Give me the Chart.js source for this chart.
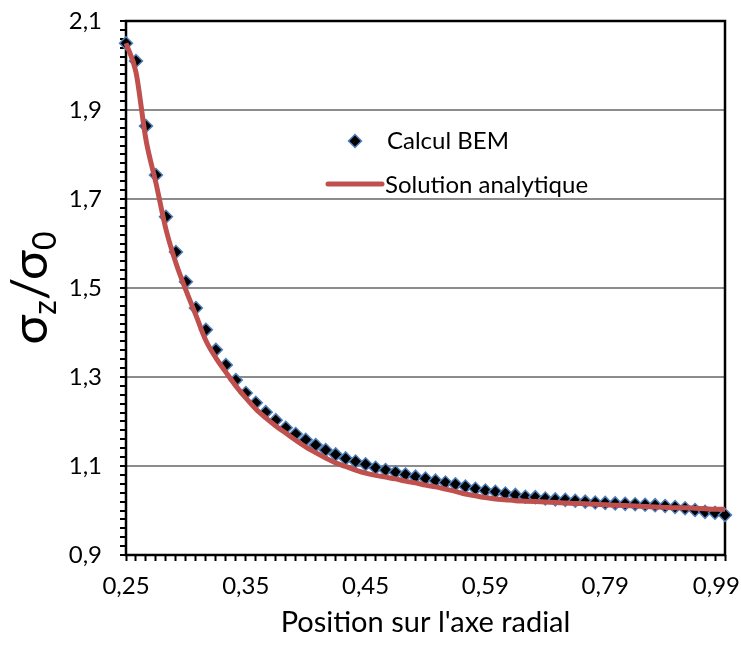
<!DOCTYPE html>
<html>
<head>
<meta charset="utf-8">
<script src="https://cdn.jsdelivr.net/npm/chart.js@4.4.0/dist/chart.umd.min.js"></script>
<style>
  body { margin: 0; background: #fff; }
  #wrap { width: 741px; height: 646px; }
</style>
</head>
<body>
<div id="wrap"><canvas id="chart" width="741" height="646"></canvas></div>
<script>
// Radial positions (category axis, one label every 12 points)
const positions = [
  0.250, 0.258, 0.267, 0.275, 0.283, 0.292, 0.300, 0.308, 0.317, 0.325, 0.333, 0.342,
  0.350, 0.358, 0.367, 0.375, 0.383, 0.392, 0.400, 0.408, 0.417, 0.425, 0.433, 0.442,
  0.450, 0.462, 0.473, 0.485, 0.497, 0.508, 0.520, 0.532, 0.543, 0.555, 0.567, 0.578,
  0.590, 0.607, 0.623, 0.640, 0.657, 0.673, 0.690, 0.707, 0.723, 0.740, 0.757, 0.773,
  0.790, 0.807, 0.823, 0.840, 0.857, 0.873, 0.890, 0.907, 0.923, 0.940, 0.957, 0.973,
  0.990
];

// Calcul BEM
const bemValues = [
  2.050, 2.010, 1.864, 1.754, 1.660, 1.581, 1.514, 1.455, 1.406, 1.361, 1.327, 1.293,
  1.264, 1.242, 1.221, 1.203, 1.186, 1.172, 1.159, 1.147, 1.136, 1.126, 1.117, 1.110,
  1.104, 1.096, 1.091, 1.086, 1.081, 1.076, 1.072, 1.067, 1.063, 1.059, 1.054, 1.049,
  1.045, 1.042, 1.038, 1.035, 1.031, 1.030, 1.027, 1.025, 1.024, 1.022, 1.020, 1.018,
  1.017, 1.016, 1.015, 1.014, 1.013, 1.012, 1.010, 1.008, 1.005, 1.001, 0.997, 0.995,
  0.990
];

// Solution analytique
const analyticValues = [
  2.050, 1.985, 1.833, 1.736, 1.632, 1.556, 1.495, 1.439, 1.382, 1.343, 1.311, 1.280,
  1.253, 1.228, 1.208, 1.190, 1.174, 1.158, 1.143, 1.130, 1.118, 1.107, 1.099, 1.091,
  1.084, 1.079, 1.075, 1.071, 1.066, 1.062, 1.057, 1.053, 1.048, 1.043, 1.037, 1.033,
  1.029, 1.026, 1.024, 1.022, 1.021, 1.020, 1.019, 1.018, 1.017, 1.016, 1.015, 1.014,
  1.013, 1.012, 1.011, 1.010, 1.009, 1.008, 1.007, 1.006, 1.006, 1.005, 1.004, 1.003,
  1.003
];

const yMin = 0.9, yMax = 2.1, yMajor = 0.2, yMinor = 0.02;
const xLabelEvery = 12;

const FONT = 'Lato, "Open Sans", sans-serif';
const comma = (v, d) => v.toFixed(d).replace('.', ',');
const isMajor = v => {
  const k = (v - yMin) / yMajor;
  return Math.abs(k - Math.round(k)) < 1e-6;
};

// black frame round the plot area (under the markers)
const frame = {
  id: 'frame',
  beforeDatasetsDraw(chart) {
    const { ctx, chartArea: a } = chart;
    ctx.save();
    ctx.strokeStyle = '#000';
    ctx.lineWidth = 2.5;
    ctx.strokeRect(a.left, a.top, a.right - a.left, a.bottom - a.top);
    ctx.restore();
  }
};

// x tick labels (kept inside the canvas like Excel does) and axis titles
const titles = {
  id: 'titles',
  afterDraw(chart) {
    const { ctx, chartArea: a, width } = chart;
    const xs = chart.scales.x;
    ctx.save();
    ctx.fillStyle = '#000';

    ctx.font = '24px ' + FONT;
    ctx.textAlign = 'center';
    ctx.textBaseline = 'middle';
    positions.forEach((p, i) => {
      if (i % xLabelEvery) return;
      const txt = comma(p, 2);
      const w = ctx.measureText(txt).width;
      const px = Math.min(xs.getPixelForTick(i), width - w / 2 - 1);
      ctx.fillText(txt, px, a.bottom + 31);
    });

    ctx.textBaseline = 'alphabetic';
    ctx.font = '29px ' + FONT;
    ctx.fillText("Position sur l'axe radial", (a.left + a.right) / 2, 632);

    const big = '50px ' + FONT, small = '32px ' + FONT;
    const parts = [['σ', big, 0], ['z', small, 9], ['/σ', big, 0], ['0', small, 9]];
    let total = 0;
    parts.forEach(p => { ctx.font = p[1]; total += ctx.measureText(p[0]).width; });
    ctx.translate(47, (a.top + a.bottom) / 2);
    ctx.rotate(-Math.PI / 2);
    ctx.textAlign = 'left';
    let x = -total / 2;
    parts.forEach(p => {
      ctx.font = p[1];
      ctx.fillText(p[0], x, p[2]);
      x += ctx.measureText(p[0]).width;
    });
    ctx.restore();
  }
};

// legend sitting inside the plot
const legendBox = {
  id: 'legendBox',
  afterDatasetsDraw(chart) {
    const { ctx } = chart;
    ctx.save();
    const cx = 355, cy = 141, r = 6.5;
    ctx.beginPath();
    ctx.moveTo(cx, cy - r); ctx.lineTo(cx + r, cy); ctx.lineTo(cx, cy + r); ctx.lineTo(cx - r, cy);
    ctx.closePath();
    ctx.fillStyle = '#000';
    ctx.fill();
    ctx.strokeStyle = '#4f81bd';
    ctx.lineWidth = 1.5;
    ctx.stroke();

    ctx.beginPath();
    ctx.moveTo(328, 184); ctx.lineTo(382, 184);
    ctx.strokeStyle = '#c0504d';
    ctx.lineWidth = 5;
    ctx.lineCap = 'round';
    ctx.stroke();

    ctx.fillStyle = '#000';
    ctx.font = '24px ' + FONT;
    ctx.textAlign = 'left';
    ctx.textBaseline = 'middle';
    ctx.fillText('Calcul BEM', 387, 141);
    ctx.fillText('Solution analytique', 385, 185);
    ctx.restore();
  }
};

new Chart(document.getElementById('chart'), {
  type: 'line',
  data: {
    labels: positions,
    datasets: [
      {
        label: 'Calcul BEM',
        data: bemValues,
        showLine: false,
        pointStyle: 'rectRot',
        pointRadius: 6.5,
        pointBackgroundColor: '#000',
        pointBorderColor: '#4f81bd',
        pointBorderWidth: 1.5,
        order: 1,
        clip: false
      },
      {
        label: 'Solution analytique',
        data: analyticValues,
        borderColor: '#c0504d',
        borderWidth: 5,
        pointRadius: 0,
        cubicInterpolationMode: 'monotone',
        fill: false,
        order: 0,
        clip: false
      }
    ]
  },
  options: {
    responsive: false,
    animation: false,
    layout: { padding: { top: 21, right: 16, left: 0, bottom: 0 } },
    plugins: { legend: { display: false }, tooltip: { enabled: false } },
    scales: {
      x: {
        type: 'category',
        offset: false,
        border: { display: false },
        grid: { drawOnChartArea: false, tickLength: 6, tickColor: '#000', tickWidth: 2 },
        ticks: { autoSkip: false, maxRotation: 0, minRotation: 0, callback: () => '' },
        afterFit: s => { s.height = 91; s.paddingLeft = 0; s.paddingRight = 0; }
      },
      y: {
        min: yMin,
        max: yMax,
        border: { display: false },
        grid: {
          color: c => isMajor(c.tick.value) ? '#8c8c8c' : 'rgba(0,0,0,0)',
          lineWidth: 2,
          tickColor: '#000',
          tickWidth: 2,
          tickLength: 6
        },
        ticks: {
          stepSize: yMinor, autoSkip: false, padding: 18,
          color: '#000', font: { family: FONT, size: 24 },
          callback: v => isMajor(v) ? comma(v, 1) : ''
        },
        afterFit: s => { s.width = 126; s.paddingTop = 0; s.paddingBottom = 0; }
      }
    }
  },
  plugins: [frame, titles, legendBox]
});
</script>
</body>
</html>
